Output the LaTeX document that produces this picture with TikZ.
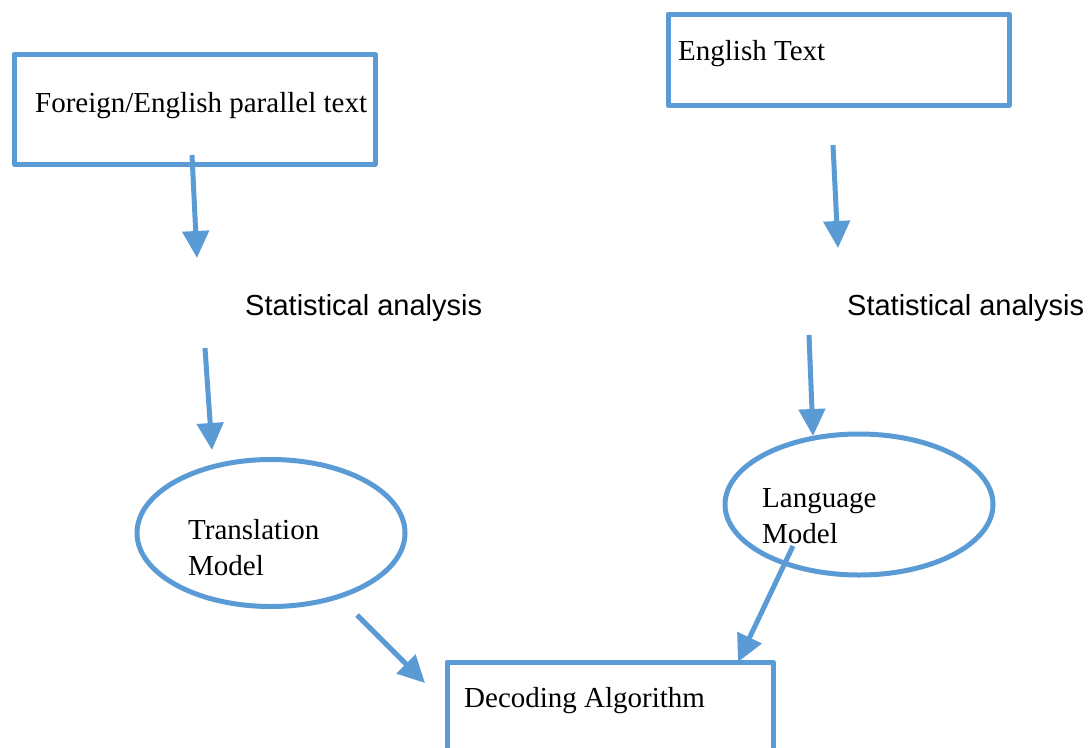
\documentclass[tikz,border=0pt]{standalone}
\usepackage{fontspec}
\setmainfont{Liberation Serif}
\newfontfamily\arialish{Liberation Sans}
\usetikzlibrary{arrows.meta,shapes.geometric}
\definecolor{flowblue}{HTML}{5B9BD5}
\tikzset{
  box/.style={draw=flowblue, line width=5pt, line join=round, rectangle, inner sep=0pt},
  oval/.style={draw=flowblue, line width=5pt, ellipse, inner sep=0pt},
  flow/.style={draw=flowblue, line width=5pt, -{Triangle[length=27pt,width=26pt]}},
  lbl/.style={font=\fontsize{29}{36}\selectfont, anchor=base west, inner sep=0pt},
  slbl/.style={font=\arialish\fontsize{29}{36}\selectfont, anchor=base west, inner sep=0pt},
}
\begin{document}
\begin{tikzpicture}[x=1pt, y=-1pt]
\useasboundingbox (0,0) rectangle (1092,747);
\clip (0,0) rectangle (1092,747);

% boxes and ellipses
\node[box, minimum width=361pt, minimum height=110pt] (src) at (194.5,109) {};
\node[box, minimum width=341pt, minimum height=91pt] (eng) at (838.5,59.5) {};
\node[box, minimum width=326pt, minimum height=138pt] (dec) at (610,731) {};
\node[oval, minimum width=268pt, minimum height=147pt] (tm) at (271,533) {};
\node[oval, minimum width=268pt, minimum height=141pt] (lm) at (859,504.5) {};

% texts
\node[lbl] (srctxt) at (35,112) {Foreign/English parallel text};
\node[lbl] (engtxt) at (678,60) {English Text};
\node[slbl] (sa1) at (245,315) {Statistical analysis};
\node[slbl] (sa2) at (847,315) {Statistical analysis};
\node[lbl] (tm1) at (188,539) {Translation};
\node[lbl] (tm2) at (188,575) {Model};
\node[lbl] (lm1) at (762,507) {Language};
\node[lbl] (lm2) at (762,543) {Model};
\node[lbl] (dectxt) at (464,707) {Decoding Algorithm};

% arrow end points
\coordinate (a1s) at (192,155);
\coordinate (a1e) at (197,258);
\coordinate (a2s) at (205,348);
\coordinate (a2e) at (212,450);
\coordinate (a3s) at (357,615);
\coordinate (a3e) at (425,683);
\coordinate (b1s) at (833,145);
\coordinate (b1e) at (838,248);
\coordinate (b2s) at (809,335);
\coordinate (b2e) at (813,436);
\coordinate (b3s) at (793,546);
\coordinate (b3e) at (738,662);

% connectors
\draw[flow] (a1s) -- (a1e);
\draw[flow] (a2s) -- (a2e);
\draw[flow] (a3s) -- (a3e);
\draw[flow] (b1s) -- (b1e);
\draw[flow] (b2s) -- (b2e);
\draw[flow] (b3s) -- (b3e);
\end{tikzpicture}
\end{document}
